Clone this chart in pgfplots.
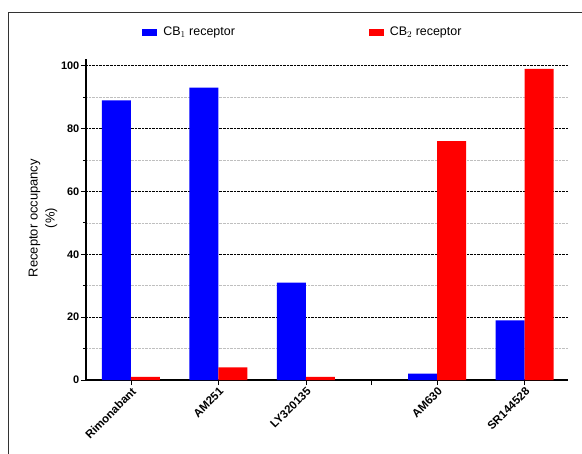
\documentclass[border=0pt]{standalone}
\usepackage{fontspec}
\setmainfont{Liberation Sans}
\usepackage{pgfplots}
\pgfplotsset{compat=1.18}
\begin{document}
\begin{tikzpicture}
\begin{axis}[
  scale only axis,
  width=482bp, height=320.6bp,
  at={(0,0)}, anchor=south west,
  xmin=-0.514, xmax=4.995,
  ymin=0, ymax=102,
  axis x line*=bottom, axis y line*=left,
  axis line style={line width=1.1pt, -},
  xtick={0,1,2,2.75,3.5,4.5},
  xticklabels={Rimonabant,AM251,LY320135,,AM630,SR144528},
  xticklabel style={rotate=45, anchor=north east, font=\bfseries\fontsize{11.5}{12}\selectfont, inner sep=1pt},
  ytick={0,20,40,60,80,100},
  minor ytick={10,30,50,70,90},
  yticklabel style={font=\bfseries\fontsize{11}{12}\selectfont, inner sep=1.5pt},
  /pgf/number format/assume math mode=true,
  tick align=outside,
  major tick length=5bp, minor tick length=3bp,
  tick style={black, line width=0.8pt},
  ymajorgrids, yminorgrids,
  major grid style={black, densely dotted, line width=0.6pt},
  minor grid style={gray!50, densely dotted, line width=0.5pt},
  ylabel={Receptor occupancy\\(\%)},
  ylabel style={align=center, font=\fontsize{13}{17}\selectfont, at={(axis description cs:-0.089,0.505)}, anchor=center},
  legend columns=2,
  legend style={draw=none, fill=none, at={(rel axis cs:0.45,1.085)}, anchor=center, font=\fontsize{12.5}{14}\selectfont,
    /tikz/every odd column/.append style={column sep=4bp},
    /tikz/every even column/.append style={column sep=132bp}},
  legend image code/.code={\fill[#1] (0bp,-3.5bp) rectangle (15bp,3.5bp);},
]
\addplot[ybar, bar width=29bp, bar shift=-14.5bp, fill=blue, draw=none] coordinates {(0,89) (1,93) (2,31) (3.5,2) (4.5,19)};
\addlegendentry{CB$_1$ receptor}
\addplot[ybar, bar width=29bp, bar shift=14.5bp, fill=red, draw=none] coordinates {(0,1) (1,4) (2,1) (3.5,76) (4.5,99)};
\addlegendentry{CB$_2$ receptor}
\end{axis}
\draw[line width=0.8pt, black!80] (-78bp,-74bp) -- (-78bp,368bp) -- (496bp,368bp);
\pgfresetboundingbox
\useasboundingbox (-86bp,-74bp) rectangle (496bp,380bp);
\end{tikzpicture}
\end{document}
